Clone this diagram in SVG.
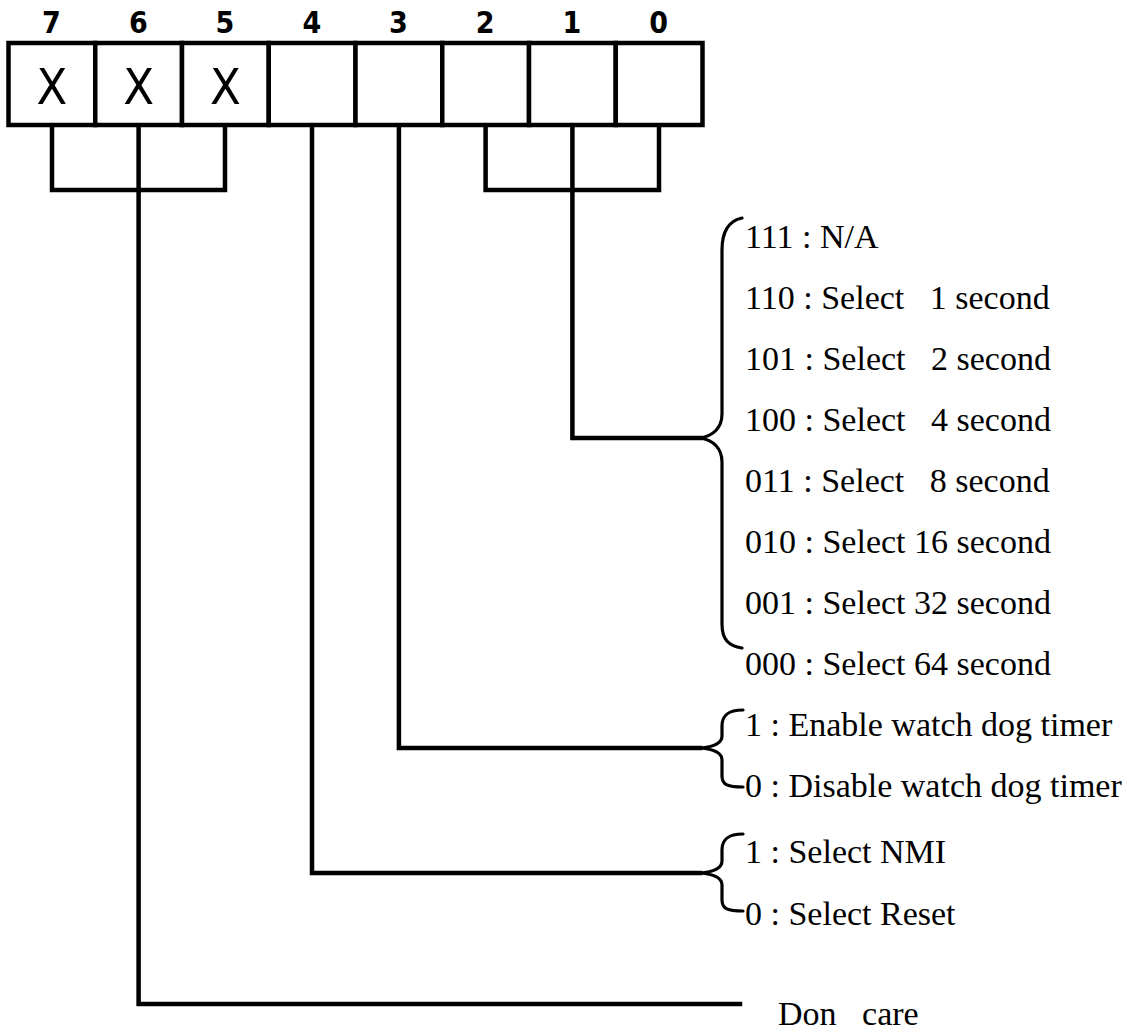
<svg xmlns="http://www.w3.org/2000/svg" width="1127" height="1032" viewBox="0 0 1127 1032">
<style>
.bit{font-family:"Liberation Sans Narrow","DejaVu Sans Condensed","Liberation Sans",sans-serif;font-weight:bold;font-size:30px;text-anchor:middle;fill:#000}
.x{font-family:"Liberation Sans Narrow","DejaVu Sans Condensed","Liberation Sans",sans-serif;font-size:50px;text-anchor:middle;fill:#000}
.lbl{font-family:"Liberation Serif","Times New Roman",serif;font-size:34px;fill:#000;white-space:pre}
.cell{fill:#fff;stroke:#000;stroke-width:4.5}
.wire{fill:none;stroke:#000;stroke-width:4.5;stroke-linecap:square;stroke-linejoin:miter}
.brace{fill:none;stroke:#000;stroke-width:3.2;stroke-linecap:round}
</style>
<rect width="1127" height="1032" fill="#fff"/>
<g id="register">
  <g id="bit7"><rect class="cell" x="8.5" y="43" width="86.75" height="82"/><text class="bit" x="51.5" y="33">7</text><text class="x" x="51.9" y="104">X</text></g>
  <g id="bit6"><rect class="cell" x="95.25" y="43" width="86.75" height="82"/><text class="bit" x="138.3" y="33">6</text><text class="x" x="138.6" y="104">X</text></g>
  <g id="bit5"><rect class="cell" x="182" y="43" width="86.75" height="82"/><text class="bit" x="225" y="33">5</text><text class="x" x="225.4" y="104">X</text></g>
  <g id="bit4"><rect class="cell" x="268.75" y="43" width="86.75" height="82"/><text class="bit" x="311.8" y="33">4</text></g>
  <g id="bit3"><rect class="cell" x="355.5" y="43" width="86.75" height="82"/><text class="bit" x="398.5" y="33">3</text></g>
  <g id="bit2"><rect class="cell" x="442.25" y="43" width="86.75" height="82"/><text class="bit" x="485.2" y="33">2</text></g>
  <g id="bit1"><rect class="cell" x="529" y="43" width="86.75" height="82"/><text class="bit" x="572" y="33">1</text></g>
  <g id="bit0"><rect class="cell" x="615.75" y="43" width="86.75" height="82"/><text class="bit" x="658.7" y="33">0</text></g>
</g>
<g id="connectors">
  <path class="wire" d="M52,127 V190 H225 V127"/>
  <path class="wire" d="M138.6,127 V1004 H740"/>
  <path class="wire" d="M312,127 V873 H700"/>
  <path class="wire" d="M398.9,127 V748 H700"/>
  <path class="wire" d="M485.6,127 V190 H659 V127"/>
  <path class="wire" d="M572.4,127 V438 H700"/>
</g>
<g id="timeout-select">
  <path class="brace" d="M742,218 C728,221 722,232 722,250 L722,414 C722,428 713,436 700,438 C713,440 722,448 722,462 L722,624 C722,640 729,646 742,648"/>
  <text class="lbl" x="745" y="248">111 : N/A</text>
  <text class="lbl" x="745" y="309">110 : Select   1 second</text>
  <text class="lbl" x="745" y="370">101 : Select   2 second</text>
  <text class="lbl" x="745" y="431">100 : Select   4 second</text>
  <text class="lbl" x="745" y="492">011 : Select   8 second</text>
  <text class="lbl" x="745" y="553">010 : Select 16 second</text>
  <text class="lbl" x="745" y="614">001 : Select 32 second</text>
  <text class="lbl" x="745" y="675">000 : Select 64 second</text>
</g>
<g id="wdt-enable">
  <path class="brace" d="M743,710 C728,710 722,715 722,726 L722,736 C722,743 713,747 700,748 C713,749 722,753 722,760 L722,776 C722,785 728,787 743,787"/>
  <text class="lbl" x="745" y="736">1 : Enable watch dog timer</text>
  <text class="lbl" x="745" y="797">0 : Disable watch dog timer</text>
</g>
<g id="nmi-reset">
  <path class="brace" d="M743,834 C728,834 722,839 722,850 L722,861 C722,868 713,872 700,873 C713,874 722,878 722,885 L722,900 C722,909 728,911 743,911"/>
  <text class="lbl" x="745" y="863">1 : Select NMI</text>
  <text class="lbl" x="745" y="925">0 : Select Reset</text>
</g>
<g id="dont-care">
  <text class="lbl" x="778" y="1025">Don   care</text>
</g>
</svg>
